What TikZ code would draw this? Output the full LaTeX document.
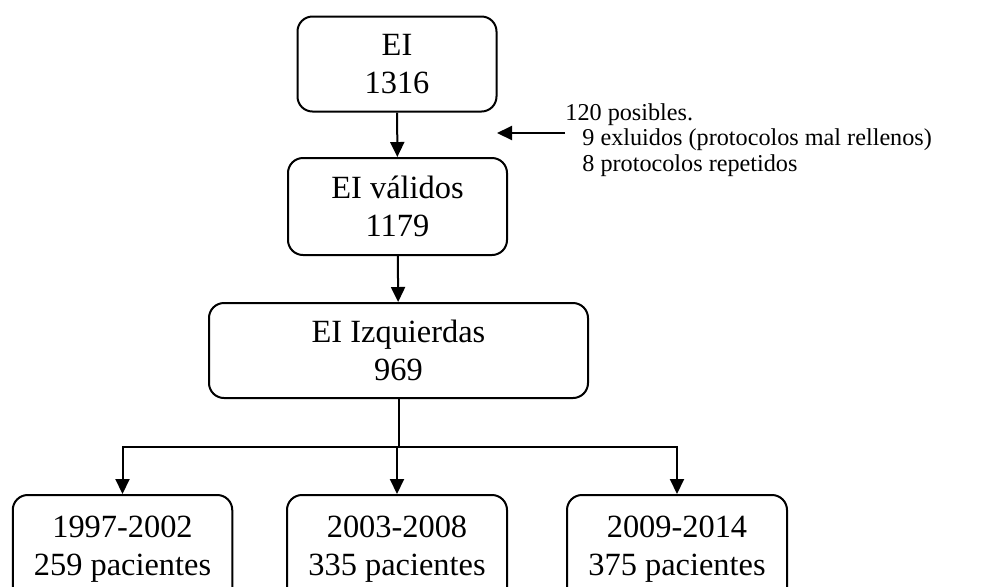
\documentclass[tikz,border=0pt]{standalone}
\usepackage{fontspec}
\setmainfont{Liberation Serif}
\usetikzlibrary{arrows.meta}

\tikzstyle{caja}=[draw,line width=1pt,rounded corners=7.5pt,align=center,inner sep=0pt,
                  font=\fontsize{16.2}{19}\selectfont]
\tikzstyle{edge} = [draw,line width=1pt,->,>={Triangle[length=7.5pt,width=7pt]}]
\tikzstyle{nota} = [align=left,inner sep=0pt,anchor=west,font=\fontsize{12.1}{12.75}\selectfont]

\begin{document}
\begin{tikzpicture}[x=1pt,y=1pt]
\clip (0,0) rectangle (491,-293);
\foreach \pos/\ancho/\alto/\name/\texto in {{(198.5,-32)/99.5/47.5/ei/EI\\1316},
                         {(198.75,-103.25)/109.5/48.5/val/EI válidos\\1179},
                         {(199.25,-175.25)/189.5/47.5/izq/EI Izquierdas\\969},
                         {(61.25,-274.5)/109.75/54/a/1997-2002\\259 pacientes},
                         {(198.5,-274.5)/110/54/b/2003-2008\\335 pacientes},
                         {(338.5,-274.5)/110/54/c/2009-2014\\375 pacientes}}{
  \node[caja,minimum width=\ancho pt,minimum height=\alto pt] (\name) at \pos {\texto};
}
% nota lateral
\node[nota] (obs) at (282.5,-70) {120 posibles.\\
  \hspace*{8.5pt}9 exluidos (protocolos mal rellenos)\\
  \hspace*{8.5pt}8 protocolos repetidos};
\coordinate (hasta) at (248.5,-66.5);
\coordinate (split) at (izq.south |- 0,-223.5);
\path[edge] (obs.west |- hasta) -- (hasta);
\path[edge] (ei) -- (val);
\path[edge] (val) -- (izq);
\draw[line width=1pt] (izq.south) -- (split);
\foreach \dest in {a,b,c}{
  \path[edge] (split) -| (\dest.north);
}
\end{tikzpicture}
\end{document}
